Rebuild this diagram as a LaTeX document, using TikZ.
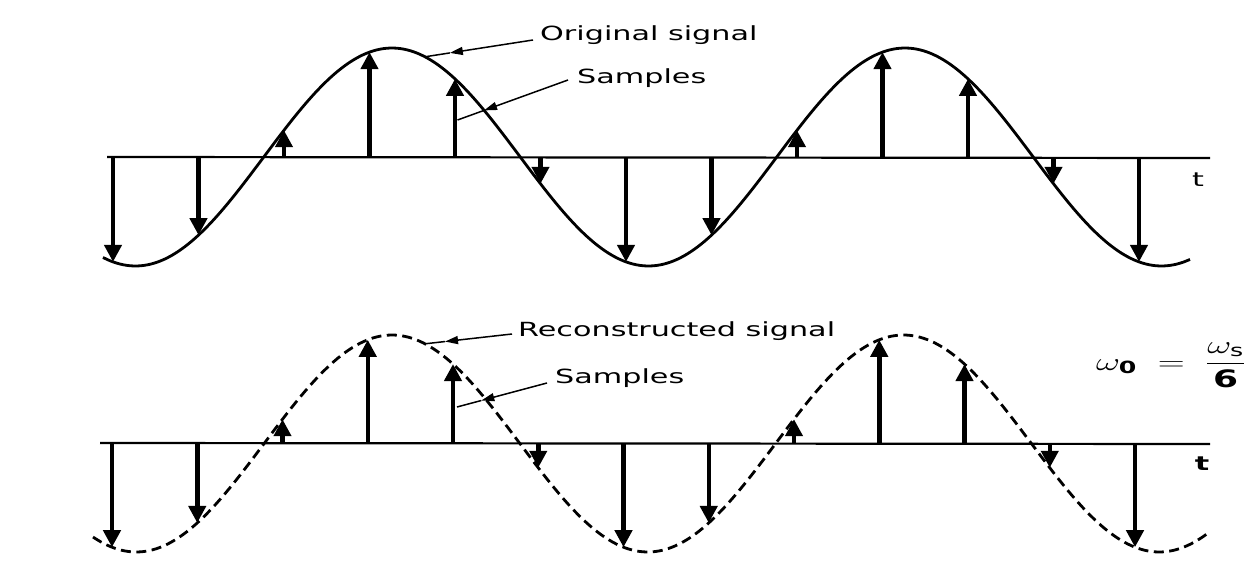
\documentclass[tikz,border=0pt]{standalone}
\usepackage{amsmath}
\usepackage{fontspec}
\newfontfamily\lblfont{DejaVu Sans}
\usetikzlibrary{arrows.meta,calc}
\newcommand{\widetxt}[1]{\scalebox{1.55}[1]{#1}}
\begin{document}
\begin{tikzpicture}[x=1pt,y=-1pt,
  axisline/.style={line width=2.2pt},
  sig/.style={line width=2.8pt},
  recon/.style={sig, dash pattern=on 10pt off 5.5pt},
  sample/.style={line width=4.5pt,-{Triangle[length=17pt,width=17pt]}},
  leader/.style={line width=1.5pt},
  leadhead/.style={leader,-{Triangle[length=13pt,width=8pt]}},
  lbl/.style={inner sep=0pt,anchor=base west,font=\lblfont\fontsize{19.5}{23}\selectfont},
  tlbl/.style={inner sep=0pt,font=\lblfont\fontsize{19.5}{23}\selectfont},
]
\useasboundingbox[fill=white] (0,0) rectangle (1254,573);

% ---------- top: original signal ----------
\coordinate (ta0) at (107,157);
\coordinate (ta1) at (1210,158);
\draw[axisline] (ta0) -- (ta1);
\node[tlbl] (ttop) at (1198,180) {\widetxt{t}};
\draw[sig] plot[domain=103:1190,samples=160,smooth] (\x,{157-109*cos(0.701754*(\x-392))});
\foreach \n in {0,...,12}{
  \pgfmathsetmacro\sx{113+85.5*\n}
  \pgfmathsetmacro\sy{157-109*cos(0.701754*(\sx-392))}
  \coordinate (ta-\n) at (\sx,157);
  \coordinate (ts-\n) at (\sx,\sy);
  \draw[sample] (ta-\n) -- (ts-\n);
}
\node[lbl] (orig) at (540,40) {\widetxt{Original signal}};
\node[lbl] (samp1) at (577,83) {\widetxt{Samples}};
\coordinate (os) at ([xshift=-7pt]orig.base west);
\coordinate (oe) at (425,{157-109*cos(0.701754*(425-392))});
\coordinate (oh) at ($(os)!0.77!(oe)$);
\draw[leadhead] (os) -- (oh);
\draw[leader] (oh) -- (oe);
\coordinate (s1s) at ([xshift=-9pt,yshift=3pt]samp1.base west);
\coordinate (s1e) at (457.5,120);
\coordinate (s1h) at ($(s1s)!0.76!(s1e)$);
\draw[leadhead] (s1s) -- (s1h);
\draw[leader] (s1h) -- (s1e);

% ---------- bottom: reconstructed signal ----------
\coordinate (ba0) at (100,443);
\coordinate (ba1) at (1210,444);
\draw[axisline] (ba0) -- (ba1);
\node[tlbl,font=\lblfont\bfseries\fontsize{19.5}{23}\selectfont] (tbot) at (1202,464) {\widetxt{t}};
\draw[recon] plot[domain=93:1208,samples=160,smooth] (\x,{443.5-108.5*cos(0.703812*(\x-392))});
\foreach \n in {0,...,12}{
  \pgfmathsetmacro\sx{112+85.25*\n}
  \pgfmathsetmacro\sy{443.5-108.5*cos(0.703812*(\sx-392))}
  \coordinate (ba-\n) at (\sx,443);
  \coordinate (bs-\n) at (\sx,\sy);
  \draw[sample] (ba-\n) -- (bs-\n);
}
\node[lbl] (recl) at (518,336) {\widetxt{Reconstructed signal}};
\node[lbl] (samp2) at (555,383) {\widetxt{Samples}};
\coordinate (rs) at ([xshift=-6pt,yshift=2pt]recl.base west);
\coordinate (re) at (425,{443.5-108.5*cos(0.703812*(425-392))});
\coordinate (rh) at ($(rs)!0.77!(re)$);
\draw[leadhead] (rs) -- (rh);
\draw[leader] (rh) -- (re);
\coordinate (s2s) at ([xshift=-8pt,yshift=0pt]samp2.base west);
\coordinate (s2e) at (457,407);
\coordinate (s2h) at ($(s2s)!0.73!(s2e)$);
\draw[leadhead] (s2s) -- (s2h);
\draw[leader] (s2h) -- (s2e);

\node[inner sep=0pt,anchor=west] (omega) at (1096,365)
  {\fontsize{24}{28}\selectfont\scalebox{1.5}[1]{$\displaystyle\omega_{\text{\lblfont\bfseries 0}}\;=\;\frac{\omega_{\text{\lblfont s}}}{\text{\lblfont\bfseries 6}}$}};
\end{tikzpicture}
\end{document}
